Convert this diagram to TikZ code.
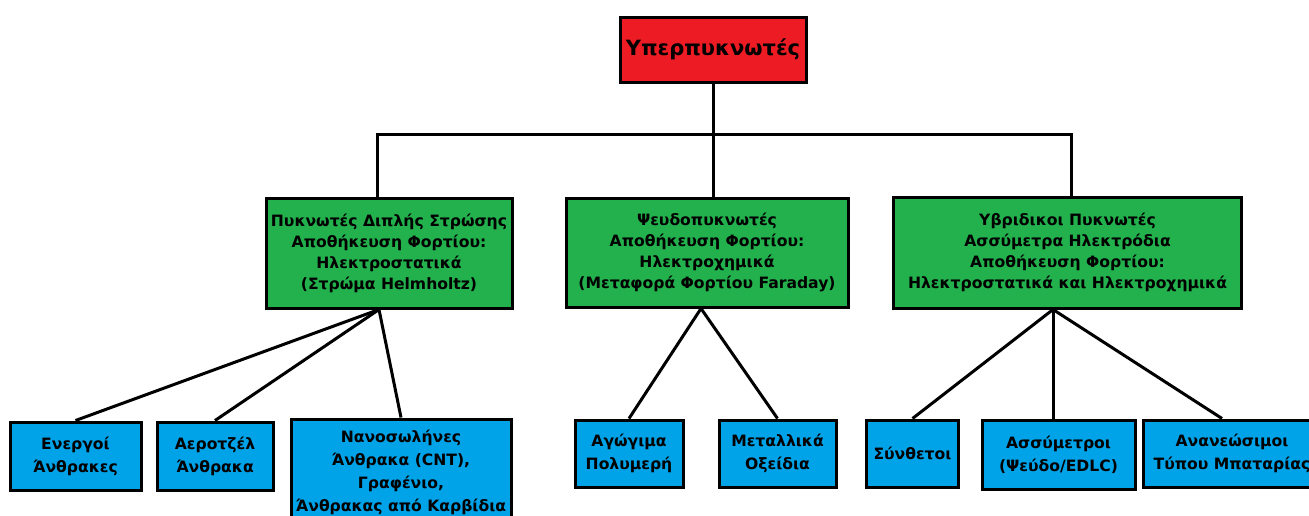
\documentclass[tikz,border=0pt]{standalone}
\usepackage{fontspec}
\setmainfont{DejaVu Sans}
\usepackage{tikz}
\definecolor{topred}{HTML}{ED1C24}
\definecolor{midgreen}{HTML}{22B14C}
\definecolor{leafblue}{HTML}{00A2E8}
\tikzset{
        box/.style={draw, line width=1.5pt, align=center, inner sep=0pt, font=\bfseries\fontsize{7.8}{10.5}\selectfont},
        topbox/.style={box, fill=topred, font=\bfseries\fontsize{10.5}{13}\selectfont},
        midbox/.style={box, fill=midgreen},
        leafbox/.style={box, fill=leafblue, font=\bfseries\fontsize{7.8}{11.5}\selectfont},
        link/.style={line width=1.5pt}
}
\begin{document}
\begin{tikzpicture}[x=0.5pt, y=-0.5pt]
                \useasboundingbox (0,0) rectangle (1309,515);
                \node[topbox, minimum width=93pt, minimum height=32.5pt](super) at (713,49.5){Υπερπυκνωτές};
                \node[midbox, minimum width=123pt, minimum height=55pt](edlc) at (389,253){Πυκνωτές Διπλής Στρώσης\\Αποθήκευση Φορτίου:\\Ηλεκτροστατικά\\(Στρώμα Helmholtz)};
                \node[midbox, minimum width=141pt, minimum height=54.5pt](pseudo) at (707,252.5){Ψευδοπυκνωτές\\Αποθήκευση Φορτίου:\\Ηλεκτροχημικά\\(Μεταφορά Φορτίου Faraday)};
                \node[midbox, minimum width=174pt, minimum height=55.5pt](hybrid) at (1067.5,252.5){Υβριδικοι Πυκνωτές\\Ασσύμετρα Ηλεκτρόδια\\Αποθήκευση Φορτίου:\\Ηλεκτροστατικά και Ηλεκτροχημικά};
                \node[leafbox, minimum width=65.5pt, minimum height=34pt](active) at (75.5,456){Ενεργοί\\Άνθρακες};
                \node[leafbox, minimum width=58pt, minimum height=34pt](aerogel) at (215,456){Αεροτζέλ\\Άνθρακα};
                \node[leafbox, minimum width=110pt, minimum height=53pt](nano) at (401,472){Νανοσωλήνες\\Άνθρακα (CNT),\\Γραφένιο,\\Άνθρακας από Καρβίδια};
                \node[leafbox, minimum width=54pt, minimum height=33.5pt](polymer) at (629,453.5){Αγώγιμα\\Πολυμερή};
                \node[leafbox, minimum width=58.5pt, minimum height=33.5pt](oxide) at (777.5,453.5){Μεταλλικά\\Οξείδια};
                \node[leafbox, minimum width=46pt, minimum height=33.5pt](composite) at (912.5,453.5){Σύνθετοι};
                \node[leafbox, minimum width=76.5pt, minimum height=34.5pt](asym) at (1058.5,454.5){Ασσύμετροι\\(Ψεύδο/EDLC)};
                \node[leafbox, minimum width=89pt, minimum height=33.5pt](battery) at (1232,453.5){Ανανεώσιμοι\\Τύπου Μπαταρίας};
                \coordinate (bus) at (711,134);
                \coordinate (edlcfoot) at ([xshift=-5pt]edlc.south);
                \coordinate (pseudofoot) at ([xshift=-3pt]pseudo.south);
                \coordinate (hybridfoot) at ([xshift=-7.25pt]hybrid.south);
                \draw[link] (super.south) -- (super.south |- bus);
                \draw[link] ([xshift=-6pt]edlc.north) |- (bus) -| ([xshift=1.75pt]hybrid.north);
                \draw[link] (super.south |- bus) -- (super.south |- pseudo.north);
                \path[link] (edlcfoot) edge (active.north) edge (aerogel.north) edge (nano.north);
                \path[link] (pseudofoot) edge (polymer.north) edge (oxide.north);
                \path[link] (hybridfoot) edge (composite.north) edge (hybridfoot |- asym.north) edge ([xshift=-5pt]battery.north);
\end{tikzpicture}
\end{document}
